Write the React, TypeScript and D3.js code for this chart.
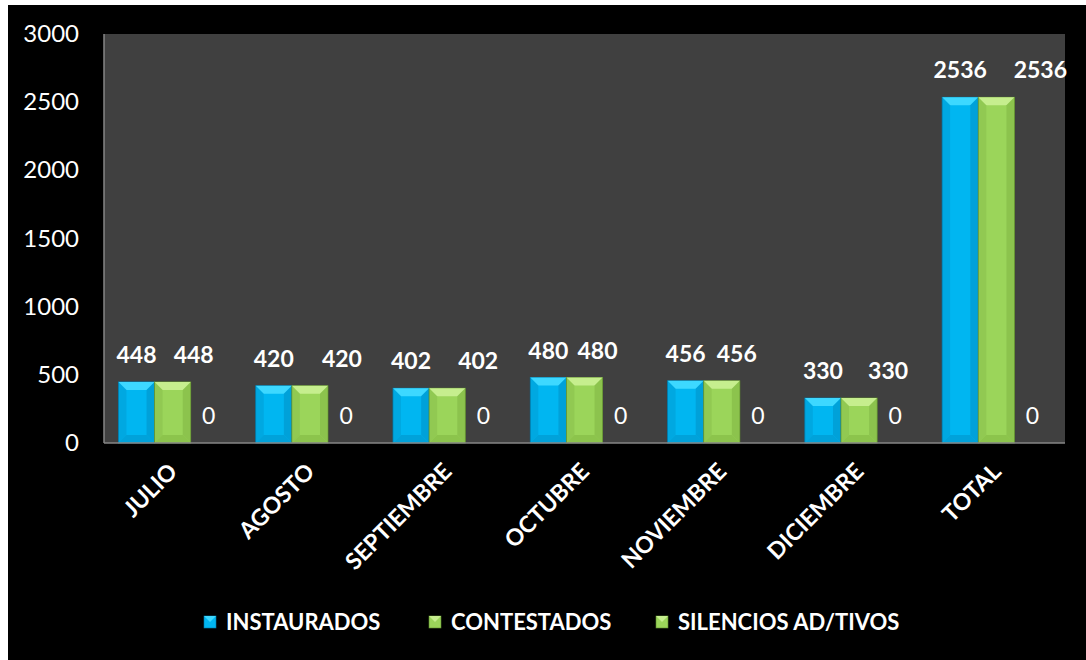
import React from "react";
import * as d3 from "d3";

const categories = ["JULIO", "AGOSTO", "SEPTIEMBRE", "OCTUBRE", "NOVIEMBRE", "DICIEMBRE", "TOTAL"];
const seriesNames = ["INSTAURADOS", "CONTESTADOS", "SILENCIOS AD/TIVOS"];
const instaurados = [448, 420, 402, 480, 456, 330, 2536];
const contestados = [448, 420, 402, 480, 456, 330, 2536];
const silencios = [0, 0, 0, 0, 0, 0, 0];
const yTicks = [0, 500, 1000, 1500, 2000, 2500, 3000];

// layout: horizontal nudge of the CONTESTADOS data labels (as placed in the original)
const contestadosLabelShift = [21, 32, 31, 13, 15, 29, 44];

const seriesValues = [instaurados, contestados, silencios];
const palettes = [
  { main: "#00B6F1", light: "#3DD8FF", dark: "#0090C4", edge: "#0078A8", bottom: "#00A2DA" },
  { main: "#9BD55A", light: "#C6EE8E", dark: "#7FB544", edge: "#5E8C2C", bottom: "#8CC44C" },
  { main: "#9BD55A", light: "#C6EE8E", dark: "#7FB544", edge: "#5E8C2C", bottom: "#8CC44C" },
];

const W = 1086;
const H = 660;
const plot = { left: 104, right: 1065, top: 34, bottom: 443 };
const FONT = "Lato, 'Open Sans', sans-serif";

export default function App() {
  const x0 = d3.scaleBand<string>().domain(categories).range([plot.left, plot.right]).paddingInner(0.21).paddingOuter(0.105);
  const x1 = d3.scaleBand<number>().domain([0, 1, 2]).range([0, x0.bandwidth()]);
  const y = d3.scaleLinear().domain([0, 3000]).range([plot.bottom, plot.top]);

  const bars: React.ReactNode[] = [];
  const labels: React.ReactNode[] = [];
  categories.forEach((c, ci) => {
    seriesValues.forEach((vals, si) => {
      const v = vals[ci];
      const bx = (x0(c) as number) + (x1(si) as number);
      const bw = x1.bandwidth();
      const by = y(v);
      const bh = plot.bottom - by;
      const p = palettes[si];
      if (bh > 0) {
        const b = Math.min(8, bh / 2, bw / 2);
        bars.push(
          <g key={`b-${ci}-${si}`}>
            <rect x={bx} y={by} width={bw} height={bh} fill={p.main} stroke={p.edge} strokeWidth={0.8} />
            <polygon points={`${bx},${by} ${bx + bw},${by} ${bx + bw - b},${by + b} ${bx + b},${by + b}`} fill={p.light} />
            <polygon points={`${bx},${by} ${bx + b},${by + b} ${bx + b},${by + bh - b} ${bx},${by + bh}`} fill={p.dark} opacity={0.35} />
            <polygon points={`${bx + bw},${by} ${bx + bw - b},${by + b} ${bx + bw - b},${by + bh - b} ${bx + bw},${by + bh}`} fill={p.dark} opacity={0.55} />
            <polygon points={`${bx},${by + bh} ${bx + b},${by + bh - b} ${bx + bw - b},${by + bh - b} ${bx + bw},${by + bh}`} fill={p.bottom} />
          </g>
        );
      }
      const shift = si === 1 ? contestadosLabelShift[ci] : 0;
      labels.push(
        <text
          key={`l-${ci}-${si}`}
          x={bx + bw / 2 + shift}
          y={by - 19}
          textAnchor="middle"
          fill="#FFFFFF"
          fontFamily={FONT}
          fontWeight={si === 2 ? 400 : 700}
          fontSize={23}
        >
          {v}
        </text>
      );
    });
  });

  return (
    <svg width={W} height={H} style={{ position: "absolute", left: 0, top: 0 }}>
      <rect x={8} y={5} width={W - 8} height={H - 5} fill="#000000" />
      <rect x={plot.left} y={plot.top} width={plot.right - plot.left} height={plot.bottom - plot.top} fill="#404040" />
      <line x1={plot.left} x2={plot.left} y1={plot.top} y2={plot.bottom} stroke="#868686" strokeWidth={1.5} />
      {yTicks.map((t) => (
        <text key={`t-${t}`} x={79} y={y(t) + 8} textAnchor="end" fill="#FFFFFF" fontFamily={FONT} fontSize={24}>
          {t}
        </text>
      ))}
      {bars}
      <line x1={plot.left} x2={plot.right} y1={plot.bottom} y2={plot.bottom} stroke="#868686" strokeWidth={1.5} />
      {labels}
      {categories.map((c) => {
        const cx = (x0(c) as number) + x0.bandwidth() / 2 + 6;
        const cy = plot.bottom + 30;
        return (
          <text
            key={`c-${c}`}
            transform={`translate(${cx},${cy}) rotate(-45)`}
            textAnchor="end"
            fill="#FFFFFF"
            fontFamily={FONT}
            fontWeight={700}
            fontSize={23}
          >
            {c}
          </text>
        );
      })}
      {seriesNames.map((n, i) => {
        const lx = [204, 429, 656][i];
        const ly = 622;
        const p = palettes[i];
        return (
          <g key={`lg-${i}`}>
            <rect x={lx} y={ly - 6} width={12} height={12} fill={p.main} stroke={p.edge} strokeWidth={0.6} />
            <polygon points={`${lx},${ly - 6} ${lx + 12},${ly - 6} ${lx + 6},${ly}`} fill={p.light} />
            <text x={lx + 22} y={ly + 8} fill="#FFFFFF" fontFamily={FONT} fontWeight={700} fontSize={22}>
              {n}
            </text>
          </g>
        );
      })}
    </svg>
  );
}
